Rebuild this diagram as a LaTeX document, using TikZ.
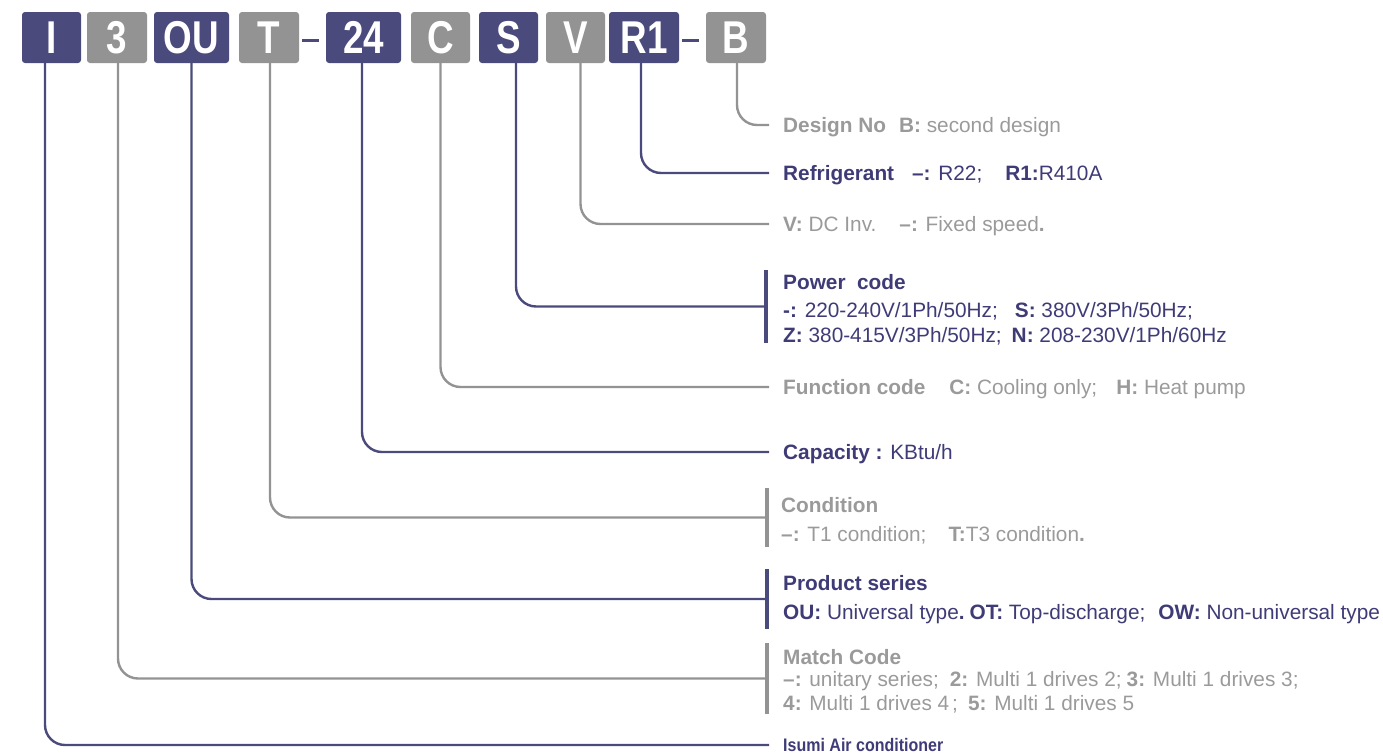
\documentclass[tikz,border=0pt]{standalone}
\usepackage{fontspec}
\setmainfont{Liberation Sans}
\usepackage{graphicx}
\definecolor{navy}{HTML}{4A4A7C}
\definecolor{grayb}{HTML}{939393}
\definecolor{navyt}{HTML}{3E3B76}
\definecolor{grayt}{HTML}{9A9A9A}
\tikzset{
 code/.style={rounded corners=3pt, minimum height=51pt, inner sep=0pt, text=white, font=\fontsize{46}{46}\selectfont\bfseries},
 nbox/.style={code, fill=navy},
 gbox/.style={code, fill=grayb},
 conn/.style={line width=2.4pt, rounded corners=20pt},
 lab/.style={anchor=base west, inner sep=0pt, font=\fontsize{20.8}{24}\selectfont},
 nlab/.style={lab, text=navyt},
 glab/.style={lab, text=grayt},
 vbar/.style={inner sep=0pt, minimum width=4pt, draw=none},
 joiner/.style={line width=3pt, navy}
}
\begin{document}
\begin{tikzpicture}[x=1pt,y=-1pt]
\useasboundingbox (0,0) rectangle (1383,755);
% code boxes
\node[nbox, minimum width=59pt] (bI)  at (51.5,37.5)  {\scalebox{0.8}[1]{I}};
\node[gbox, minimum width=60pt] (b3)  at (117,37.5)   {\scalebox{0.8}[1]{3}};
\node[nbox, minimum width=75pt] (bOU) at (191.5,37.5) {\scalebox{0.8}[1]{OU}};
\node[gbox, minimum width=60pt] (bT)  at (269,37.5)   {\scalebox{0.8}[1]{T}};
\node[nbox, minimum width=75pt] (b24) at (363.5,37.5) {\scalebox{0.8}[1]{24}};
\node[gbox, minimum width=59pt] (bC)  at (440.5,37.5) {\scalebox{0.8}[1]{C}};
\node[nbox, minimum width=59pt] (bS)  at (508.5,37.5) {\scalebox{0.8}[1]{S}};
\node[gbox, minimum width=59pt] (bV)  at (575.5,37.5) {\scalebox{0.8}[1]{V}};
\node[nbox, minimum width=70pt] (bR)  at (644,37.5)   {\scalebox{0.8}[1]{R1}};
\node[gbox, minimum width=60pt] (bB)  at (736,37.5)   {\scalebox{0.8}[1]{B}};
% joining dashes
\draw[joiner] ([xshift=3pt,yshift=-2.5pt]bT.east) -- ([xshift=-7pt,yshift=-2.5pt]b24.west);
\draw[joiner] ([xshift=3pt,yshift=-2.5pt]bR.east) -- ([xshift=-7pt,yshift=-2.5pt]bB.west);
% bars
\node[vbar, fill=navy,  minimum height=73pt] (barS) at (766,306.5) {};
\node[vbar, fill=grayb, minimum height=59pt] (barT) at (767,517.5) {};
\node[vbar, fill=navy,  minimum height=60pt] (barO) at (767,599) {};
\node[vbar, fill=grayb, minimum height=71pt] (barM) at (767,678.5) {};
% free ends
\coordinate (eB) at (769,125);
\coordinate (eR) at (769,173);
\coordinate (eV) at (769,224);
\coordinate (eC) at (769,387);
\coordinate (e24) at (769,452);
\coordinate (eI) at (769,745);
% connectors
\draw[conn, grayb] ([xshift=1pt]bB.south) |- (eB);
\draw[conn, navy]  ([xshift=-3pt]bR.south) |- (eR);
\draw[conn, grayb] ([xshift=5pt]bV.south) |- (eV);
\draw[conn, navy]  ([xshift=7.5pt]bS.south) |- (barS.west);
\draw[conn, grayb] (bC.south) |- (eC);
\draw[conn, navy]  ([xshift=-1.5pt]b24.south) |- (e24);
\draw[conn, grayb] ([xshift=1pt]bT.south) |- (barT.west);
\draw[conn, navy]  (bOU.south) |- (barO.west);
\draw[conn, grayb] ([xshift=1pt]b3.south) |- (barM.west);
\draw[conn, navy]  ([xshift=-6.5pt]bI.south) |- (eI);
% labels
\node[glab] (tB) at (783,132) {\textbf{Design No}\hspace{13pt}\textbf{B:} second design};
\node[nlab] (tR) at (783,180) {\textbf{Refrigerant}\hspace{18pt}\textbf{--:} R22;\hspace{23pt}\textbf{R1:}R410A};
\node[glab] (tV) at (783,231) {\textbf{V:} DC Inv.\hspace{23pt}\textbf{--:} Fixed speed\textbf{.}};
\node[nlab] (tS1) at (783,289) {\textbf{Power\ \ code}};
\node[nlab] (tS2) at (783,317) {\textbf{-:} 220-240V/1Ph/50Hz;\hspace{17pt}\textbf{S:} 380V/3Ph/50Hz;};
\node[nlab] (tS3) at (783,342) {\textbf{Z:} 380-415V/3Ph/50Hz;\hspace{10pt}\textbf{N:} 208-230V/1Ph/60Hz};
\node[glab] (tC) at (783,394) {\textbf{Function code}\hspace{24pt}\textbf{C:} Cooling only;\hspace{19pt}\textbf{H:} Heat pump};
\node[nlab] (t24) at (783,459) {\textbf{Capacity :} KBtu/h};
\node[glab] (tT1) at (781,512) {\textbf{Condition}};
\node[glab] (tT2) at (781,541) {\textbf{--:} T1 condition;\hspace{22pt}\textbf{T:}T3 condition\textbf{.}};
\node[nlab] (tO1) at (783,590) {\textbf{Product series}};
\node[nlab] (tO2) at (783,619) {\textbf{OU:} Universal type\textbf{.}\hspace{5pt}\textbf{OT:} Top-discharge;\hspace{13pt}\textbf{OW:} Non-universal type};
\node[glab] (tM1) at (783,664) {\textbf{Match Code}};
\node[glab] (tM2) at (783,686) {\textbf{--:} unitary series;\hspace{11pt}\textbf{2:} Multi 1 drives 2;\hspace{5pt}\textbf{3:} Multi 1 drives 3;};
\node[glab] (tM3) at (783,710) {\textbf{4:} Multi 1 drives 4\hspace{3pt};\hspace{10pt}\textbf{5:} Multi 1 drives 5};
\node[nlab, font=\fontsize{16.5}{18}\selectfont\bfseries] (tI) at (783,751) {\scalebox{0.97}[1.1]{Isumi Air conditioner}};
\end{tikzpicture}
\end{document}
